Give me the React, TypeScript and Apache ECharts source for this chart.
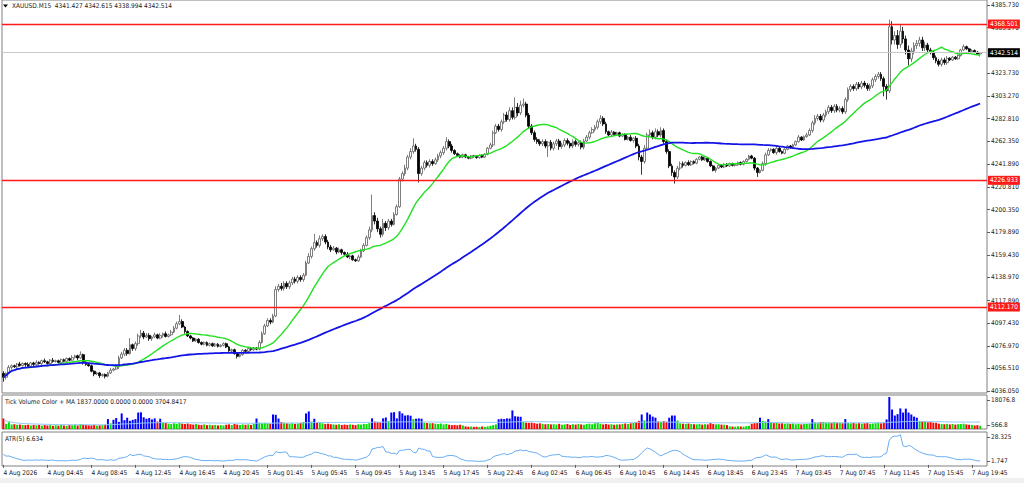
import React, { useEffect, useRef } from "react";
import * as echarts from "echarts";

const symbolName = "XAUUSD.M15";
const timeLabels = [
  "4 Aug 2026", "4 Aug 04:45", "4 Aug 08:45", "4 Aug 12:45", "4 Aug 16:45", "4 Aug 20:45",
  "5 Aug 01:45", "5 Aug 05:45", "5 Aug 09:45", "5 Aug 13:45", "5 Aug 17:45", "5 Aug 22:45",
  "6 Aug 02:45", "6 Aug 06:45", "6 Aug 10:45", "6 Aug 14:45", "6 Aug 18:45", "6 Aug 23:45",
  "7 Aug 03:45", "7 Aug 07:45", "7 Aug 11:45", "7 Aug 15:45", "7 Aug 19:45",
];
const barsPerLabel = 16;
const firstOpen = 4052.0;

const closes = [
  4048.5, 4052.0, 4057.5, 4059.0, 4058.0, 4060.5, 4059.2, 4061.0, 4060.0, 4058.5, 4061.5, 4060.2,
  4062.0, 4061.0, 4063.5, 4062.5, 4061.0, 4064.0, 4062.8, 4063.5, 4062.0, 4064.5, 4063.0, 4065.5,
  4064.0, 4066.5, 4068.0, 4066.0, 4069.0, 4062.0, 4060.0, 4059.0, 4054.0, 4051.5, 4052.5, 4050.0,
  4051.0, 4049.5, 4052.5, 4055.0, 4056.0, 4058.0, 4066.0, 4069.5, 4073.0, 4070.0, 4078.0, 4074.5,
  4079.0, 4086.0, 4088.5, 4085.0, 4086.5, 4083.5, 4085.0, 4087.0, 4084.0, 4086.5, 4088.0, 4085.5,
  4087.0, 4089.5, 4093.0, 4097.0, 4099.0, 4094.0, 4090.0, 4086.0, 4084.0, 4081.5, 4083.0, 4080.0,
  4078.5, 4080.0, 4077.5, 4079.0, 4077.0, 4078.5, 4076.5, 4077.5, 4079.0, 4076.0, 4072.5, 4073.5,
  4070.0, 4067.5, 4069.0, 4073.0, 4072.0, 4074.5, 4073.5, 4075.0, 4074.0, 4080.0, 4088.0, 4095.0,
  4100.0, 4098.5, 4104.0, 4128.0, 4131.0, 4129.0, 4133.5, 4130.5, 4134.0, 4137.5, 4135.5, 4139.0,
  4137.0, 4141.0, 4152.0, 4158.0, 4165.0, 4170.5, 4168.0, 4174.0, 4176.0, 4171.0, 4166.5, 4164.0,
  4165.5, 4162.0, 4164.0, 4161.5, 4160.0, 4157.5, 4158.5, 4155.0, 4154.0, 4157.5, 4163.0, 4168.0,
  4175.0, 4182.0, 4195.0, 4190.0, 4183.0, 4178.0, 4188.0, 4184.0, 4190.0, 4187.0, 4196.0, 4203.0,
  4228.0, 4233.0, 4238.0, 4248.0, 4253.0, 4258.0, 4255.0, 4233.0, 4238.0, 4243.0, 4240.5, 4244.0,
  4242.0, 4245.5, 4249.0, 4252.0, 4256.0, 4262.0, 4258.0, 4254.0, 4251.0, 4249.5, 4248.0, 4250.0,
  4248.0, 4247.0, 4249.0, 4248.5, 4247.5, 4249.5, 4248.0, 4250.5, 4256.0, 4259.0, 4270.0, 4276.0,
  4273.0, 4280.0, 4286.0, 4282.0, 4290.0, 4284.0, 4293.0, 4288.0, 4295.0, 4296.0, 4286.0, 4276.0,
  4270.0, 4264.0, 4262.0, 4260.0, 4262.0, 4258.0, 4261.5, 4256.0, 4260.0, 4262.5, 4257.5, 4259.0,
  4263.0, 4260.5, 4258.0, 4262.0, 4259.5, 4261.0, 4257.0, 4262.5, 4266.0, 4270.0, 4273.0, 4275.0,
  4280.0, 4283.0, 4278.0, 4271.0, 4268.0, 4270.5, 4268.5, 4270.0, 4267.0, 4268.5, 4264.0, 4266.0,
  4263.0, 4265.0, 4258.0, 4248.0, 4244.0, 4256.0, 4268.0, 4270.0, 4266.0, 4271.0, 4268.0, 4272.0,
  4262.0, 4253.0, 4240.0, 4234.0, 4230.0, 4238.0, 4242.0, 4240.5, 4243.0, 4241.0, 4244.0, 4242.5,
  4246.0, 4248.0, 4245.5, 4247.0, 4244.0, 4240.0, 4236.0, 4238.0, 4240.5, 4239.0, 4241.5, 4240.0,
  4242.0, 4240.5, 4241.0, 4243.0, 4241.5, 4244.0, 4246.0, 4249.0, 4247.0, 4238.0, 4234.0, 4236.0,
  4242.0, 4250.0, 4254.0, 4255.0, 4252.0, 4256.0, 4253.0, 4251.5, 4255.0, 4258.0, 4256.5, 4259.0,
  4262.0, 4266.0, 4263.5, 4266.5, 4268.0, 4272.0, 4279.0, 4283.0, 4285.0, 4281.5, 4286.0, 4289.0,
  4293.0, 4290.0, 4294.0, 4290.5, 4292.0, 4289.0, 4300.0, 4309.0, 4312.0, 4310.0, 4314.0, 4311.5,
  4315.0, 4313.0, 4310.0, 4312.5, 4318.0, 4321.0, 4323.0, 4319.0, 4312.0, 4308.0, 4366.0, 4354.0,
  4358.0, 4350.0, 4362.0, 4355.0, 4345.0, 4337.0, 4344.0, 4349.0, 4351.0, 4354.0, 4347.0, 4349.5,
  4345.0, 4343.0, 4338.0, 4335.0, 4332.0, 4336.0, 4333.5, 4337.5, 4336.0, 4338.5, 4337.0, 4340.0,
  4345.0, 4348.0, 4346.0, 4343.5, 4344.5, 4343.0, 4341.427, 4342.514,
];

const upperWicks = [
  2, 1, 2, 1, 1, 1, 2, 1, 1, 2, 1, 1, 2, 1, 1, 2, 1, 1, 2, 1, 1, 1, 1, 1,
  1, 2, 1, 1, 3, 1, 1, 1, 1, 1, 1, 1, 1, 1, 1, 2, 1, 2, 2, 2, 2, 2, 6, 1,
  2, 2, 3, 2, 2, 2, 1, 2, 1, 2, 1, 2, 1, 2, 2, 2, 6, 2, 1, 1, 1, 1, 1, 1,
  1, 1, 1, 1, 1, 1, 1, 1, 1, 1, 1, 1, 1, 1, 1, 1, 1, 1, 1, 1, 1, 2, 2, 2,
  2, 2, 2, 3, 2, 3, 2, 2, 2, 2, 2, 2, 2, 2, 2, 3, 2, 8, 2, 3, 2, 2, 2, 2,
  2, 1, 2, 1, 1, 2, 1, 1, 1, 2, 2, 2, 2, 3, 19, 3, 3, 2, 4, 2, 2, 2, 2, 2,
  2, 2, 3, 2, 3, 7, 2, 2, 2, 2, 2, 2, 2, 2, 2, 2, 2, 4, 2, 2, 1, 1, 1, 1,
  1, 1, 1, 1, 1, 1, 1, 1, 1, 2, 2, 2, 2, 2, 2, 3, 3, 3, 9, 4, 4, 5, 2, 2,
  2, 2, 2, 2, 2, 2, 1, 2, 2, 2, 2, 2, 2, 2, 2, 2, 2, 2, 2, 2, 2, 2, 2, 2,
  2, 3, 2, 2, 1, 2, 1, 1, 1, 1, 1, 1, 2, 1, 2, 2, 2, 3, 2, 3, 2, 3, 2, 3,
  2, 2, 2, 2, 2, 2, 2, 2, 1, 2, 1, 1, 1, 1, 1, 1, 1, 1, 1, 1, 1, 1, 1, 1,
  1, 1, 1, 1, 1, 1, 1, 1, 1, 1, 1, 1, 2, 2, 2, 1, 1, 2, 1, 1, 1, 1, 1, 1,
  1, 2, 1, 1, 2, 2, 2, 3, 2, 2, 2, 2, 2, 2, 2, 2, 2, 2, 2, 2, 2, 2, 2, 2,
  2, 2, 2, 2, 2, 2, 2, 2, 2, 2, 6.5, 5, 4, 5, 6.5, 4, 3, 4, 3, 3, 3, 3, 3, 3,
  2, 2, 2, 2, 2, 2, 2, 2, 1, 1, 1, 1, 1, 2, 1, 1, 1, 1, 1, 0.101,
];

const lowerWicks = [
  4, 2, 1, 2, 1, 2, 1, 1, 2, 1, 1, 2, 1, 1, 2, 1, 1, 1, 1, 1, 1, 1, 1, 1,
  1, 1, 1, 2, 1, 2, 1, 1, 1, 2, 1, 2, 1, 2, 1, 1, 1, 1, 2, 1, 2, 2, 1, 2,
  2, 2, 2, 2, 1, 2, 2, 1, 1, 1, 2, 1, 1, 1, 1, 1, 1, 1, 2, 1, 1, 1, 1, 1,
  1, 1, 1, 1, 1, 1, 1, 1, 1, 1, 1, 1, 1, 2, 1, 1, 1, 1, 1, 1, 1, 1, 1, 1,
  1, 2, 1, 1, 2, 2, 2, 2, 2, 2, 2, 2, 2, 2, 1, 1, 2, 2, 2, 2, 2, 2, 2, 2,
  1, 2, 1, 2, 1, 1, 2, 1, 1, 1, 1, 1, 1, 2, 2, 3, 3, 3, 2, 3, 2, 2, 1, 1,
  1, 2, 2, 2, 2, 2, 2, 8, 2, 2, 2, 2, 2, 1, 2, 2, 2, 2, 2, 2, 1, 1, 1, 1,
  1, 1, 1, 1, 1, 1, 1, 1, 1, 1, 2, 1, 2, 2, 2, 2, 2, 2, 2, 3, 2, 2, 2, 2,
  2, 2, 2, 2, 2, 2, 10, 2, 2, 2, 3, 2, 2, 2, 2, 2, 2, 2, 2, 2, 1, 2, 1, 2,
  2, 2, 2, 2, 1, 1, 1, 1, 1, 1, 1, 1, 1, 2, 2, 3, 12, 2, 2, 2, 2, 2, 2, 2,
  2, 2, 2, 3, 6, 2, 2, 2, 1, 1, 1, 1, 1, 1, 1, 1, 1, 1, 1, 2, 1, 1, 1, 1,
  1, 1, 1, 1, 1, 1, 1, 1, 1, 2, 4, 1, 1, 2, 1, 1, 1, 2, 1, 1, 1, 1, 1, 1,
  1, 1, 1, 1, 1, 1, 2, 2, 2, 2, 2, 2, 2, 2, 2, 2, 2, 2, 2, 2, 2, 2, 2, 2,
  2, 2, 2, 2, 2, 2, 2, 2, 9, 8, 2, 4, 4, 4, 3, 4, 4, 6, 3, 3, 3, 3, 3, 3,
  2, 2, 2, 2, 2, 2, 2, 2, 1, 1, 1, 1, 1, 1, 1, 1, 1, 1, 1, 2.433,
];

const volumes = [
  6000, 2900, 3800, 2600, 2700, 2400, 2500, 2300, 2200, 2400, 2000, 2300,
  2100, 2300, 1900, 2200, 2000, 2200, 1800, 2100, 1900, 2300, 2000, 1800,
  2200, 2100, 2500, 2000, 2800, 2400, 2200, 2100, 2000, 2300, 1900, 2100,
  2200, 2400, 5600, 3200, 5200, 6200, 4000, 8800, 5000, 6400, 4600, 5200,
  5600, 9300, 9400, 6600, 5800, 6200, 5400, 6000, 4200, 5800, 3600, 3400,
  3000, 2800, 3200, 2900, 3400, 3000, 2800, 3100, 2700, 2500, 2800, 2400,
  2300, 2600, 2200, 2400, 2100, 2300, 2000, 2200, 2000, 2400, 2600, 2200,
  2800, 2500, 2300, 2600, 2400, 2600, 2300, 2900, 5900, 3600, 3400, 3500,
  3300, 3000, 8200, 8000, 5900, 3900, 3500, 3200, 3000, 3300, 2900, 3100,
  3400, 4000, 8800, 9900, 4200, 5800, 4000, 3600, 3200, 2800, 3000, 2700,
  2600, 2400, 2700, 2300, 2500, 2300, 2600, 2400, 2200, 2700, 2500, 2900,
  2800, 3300, 6000, 4200, 4000, 3800, 6000, 6500, 4500, 9300, 9500, 6000,
  10000, 8800, 7600, 7800, 7500, 5600, 5800, 6000, 5800, 3600, 3400, 3200,
  3300, 3000, 2800, 3100, 2600, 2900, 2400, 2200, 2300, 2100, 2400, 2000,
  1500, 1300, 1400, 1200, 1300, 1100, 1400, 1200, 1500, 1800, 2200, 2600,
  5500, 5800, 5600, 6000, 5900, 10500, 7200, 7000, 6900, 4000, 3600, 3500,
  3600, 3300, 3000, 3200, 2900, 2700, 2800, 2600, 2700, 2500, 2900, 2400,
  2600, 2800, 2300, 2700, 2500, 2900, 2600, 2400, 2800, 3000, 2700, 3200,
  3400, 3000, 2600, 2800, 2500, 2700, 2400, 2600, 2600, 2900, 3100, 2800,
  3200, 3400, 3800, 4600, 8200, 4800, 9300, 8200, 7000, 6400, 4200, 4000,
  4500, 4100, 6400, 7600, 7600, 4800, 3200, 3000, 2900, 3100, 2800, 2700,
  2600, 2800, 2500, 2700, 2600, 3400, 2800, 2600, 2700, 2500, 2400, 2200,
  1500, 1400, 1300, 1500, 1400, 1300, 1600, 1800, 3000, 3300, 3400, 6400,
  4600, 4200, 5600, 3800, 3300, 3500, 3100, 3200, 3000, 3200, 2900, 3100,
  2700, 2900, 2600, 2800, 2900, 3100, 5600, 3800, 3600, 3900, 4000, 3700,
  3800, 3500, 4000, 3600, 3500, 3300, 5600, 3400, 3200, 3400, 3100, 3300,
  3000, 3200, 3400, 2900, 3100, 3300, 3500, 3200, 3600, 5400, 18076, 11000,
  7600, 8400, 11600, 9300, 11500, 9300, 8200, 7000, 6400, 4600, 4200, 4400,
  3800, 4000, 3600, 3500, 3000, 2800, 2700, 2900, 2600, 2800, 2500, 2700,
  2800, 3000, 2600, 2400, 2300, 2000, 2200, 1837,
];

const priceTicks = [
  4385.73, 4365.27, 4323.73, 4303.27, 4282.81, 4262.35, 4241.89, 4220.81, 4200.35,
  4179.89, 4159.43, 4138.97, 4117.89, 4097.43, 4076.97, 4056.51, 4036.05,
];
const levelLines = [4368.501, 4226.933, 4112.17];
const volumeTicks = [18076.8, 566.8];
const atrTicks = [28.325, 1.747];
const volumeHeaderValues = ["1837.0000", "0.0000", "0.0000", "3704.8417"];
const atrHeaderValue = "6.634";
const fastMaPeriod = 20;
const slowMaPeriod = 100;
const volumeMaPeriod = 100;
const atrPeriod = 5;

const FONT = "'DejaVu Sans Condensed', 'Liberation Sans', sans-serif";

function sma(arr: number[], n: number): number[] {
  return arr.map((_, i) => {
    const s = Math.max(0, i - n + 1);
    let sum = 0;
    for (let k = s; k <= i; k++) sum += arr[k];
    return sum / (i - s + 1);
  });
}

export default function App() {
  const ref = useRef<HTMLDivElement>(null);

  useEffect(() => {
    if (!ref.current) return;
    const chart = echarts.init(ref.current, undefined, { renderer: "svg" });

    const n = closes.length;
    const opens = closes.map((c, i) => (i === 0 ? firstOpen : closes[i - 1]));
    const highs = closes.map((c, i) => Math.max(opens[i], c) + upperWicks[i]);
    const lows = closes.map((c, i) => Math.min(opens[i], c) - lowerWicks[i]);
    const candles = closes.map((c, i) => [opens[i], c, lows[i], highs[i]]);
    const fastMa = sma(closes, fastMaPeriod);
    const slowMa = sma(closes, slowMaPeriod);
    const volMa = sma(volumes, volumeMaPeriod);
    const trueRange = highs.map((h, i) =>
      i === 0 ? h - lows[i] : Math.max(h - lows[i], Math.abs(h - closes[i - 1]), Math.abs(lows[i] - closes[i - 1]))
    );
    const atr = sma(trueRange, atrPeriod);
    const volData = volumes.map((v, i) => ({
      value: v,
      itemStyle: {
        color: v > volMa[i] * 1.4 ? "#0000ff" : closes[i] >= opens[i] ? "#00dd00" : "#ff0000",
      },
    }));

    const categories = [...closes.map((_, i) => String(i)), "pad1", "pad2"];
    const last = n - 1;
    const header = `${symbolName}  ${[opens[last], highs[last], lows[last], closes[last]]
      .map((v) => v.toFixed(3))
      .join(" ")}`;

    const gridBase = { left: 2, right: 37, show: true, backgroundColor: "#ffffff", borderColor: "#808080", borderWidth: 1 };
    const labelStyle = { fontFamily: FONT, fontSize: 6.5, color: "#1a1a1a" };
    const hiddenX = (gi: number) => ({
      type: "category",
      gridIndex: gi,
      data: categories,
      boundaryGap: true,
      show: false,
    });
    const priceLabel = (value: number, bg: string) => ({
      show: true,
      position: "end",
      distance: 1,
      formatter: () => value.toFixed(3),
      backgroundColor: bg,
      color: "#ffffff",
      fontFamily: FONT,
      fontSize: 6.5,
      padding: [1, 2, 1, 2],
    });

    chart.setOption({
      animation: false,
      backgroundColor: "#ffffff",
      textStyle: { fontFamily: FONT },
      grid: [
        { ...gridBase, top: 0, height: 393 },
        { ...gridBase, top: 395, height: 34 },
        { ...gridBase, top: 432, height: 34 },
      ],
      xAxis: [
        hiddenX(0),
        hiddenX(1),
        {
          type: "category",
          gridIndex: 2,
          data: categories,
          boundaryGap: true,
          axisLine: { show: false },
          axisTick: {
            show: true,
            alignWithLabel: true,
            length: 3,
            interval: (idx: number) => idx % barsPerLabel === 0 && idx < n,
            lineStyle: { color: "#606060" },
          },
          axisLabel: {
            ...labelStyle,
            align: "left",
            margin: 3,
            interval: (idx: number) => idx % barsPerLabel === 0 && idx < n,
            formatter: (_v: string, idx: number) => timeLabels[idx / barsPerLabel] ?? "",
          },
        },
      ],
      yAxis: [
        {
          type: "value",
          gridIndex: 0,
          position: "right",
          min: 4034.28,
          max: 4390.26,
          splitLine: { show: false },
          axisLine: { show: false },
          axisTick: { show: true, length: 3, customValues: priceTicks, lineStyle: { color: "#606060" } },
          axisLabel: { ...labelStyle, margin: 4, customValues: priceTicks, formatter: (v: number) => v.toFixed(3) },
        },
        { type: "value", gridIndex: 1, min: 0, max: 19200, show: false },
        {
          type: "value",
          gridIndex: 1,
          position: "right",
          min: -2234.8,
          max: 21578.8,
          splitLine: { show: false },
          axisLine: { show: false },
          axisTick: { show: true, length: 3, customValues: volumeTicks, lineStyle: { color: "#606060" } },
          axisLabel: { ...labelStyle, margin: 4, customValues: volumeTicks, formatter: (v: number) => v.toFixed(1) },
        },
        { type: "value", gridIndex: 2, min: -1, max: 30, show: false },
        {
          type: "value",
          gridIndex: 2,
          position: "right",
          min: -3.79,
          max: 33.86,
          splitLine: { show: false },
          axisLine: { show: false },
          axisTick: { show: true, length: 3, customValues: atrTicks, lineStyle: { color: "#606060" } },
          axisLabel: { ...labelStyle, margin: 4, customValues: atrTicks, formatter: (v: number) => v.toFixed(3) },
        },
      ],
      series: [
        {
          type: "candlestick",
          xAxisIndex: 0,
          yAxisIndex: 0,
          data: candles,
          barWidth: 2.3,
          itemStyle: {
            color: "#ffffff",
            color0: "#000000",
            borderColor: "#5e5e5e",
            borderColor0: "#000000",
            borderWidth: 0.8,
          },
          markLine: {
            silent: true,
            symbol: ["none", "none"],
            animation: false,
            precision: 3,
            data: [
              ...levelLines.map((v) => ({
                yAxis: v,
                lineStyle: { color: "#ff1a1a", width: 1.4, type: "solid" },
                label: priceLabel(v, "#ff1a1a"),
              })),
              {
                yAxis: closes[last],
                lineStyle: { color: "#c8c8c8", width: 1, type: "solid" },
                label: priceLabel(closes[last], "#000000"),
              },
            ],
          },
        },
        {
          type: "line",
          xAxisIndex: 0,
          yAxisIndex: 0,
          data: fastMa,
          showSymbol: false,
          lineStyle: { color: "#22e022", width: 1.4 },
        },
        {
          type: "line",
          xAxisIndex: 0,
          yAxisIndex: 0,
          data: slowMa,
          showSymbol: false,
          lineStyle: { color: "#1414e6", width: 1.8 },
        },
        {
          type: "bar",
          xAxisIndex: 1,
          yAxisIndex: 1,
          data: volData,
          barWidth: 2,
        },
        {
          type: "line",
          xAxisIndex: 1,
          yAxisIndex: 1,
          data: volMa,
          showSymbol: false,
          lineStyle: { color: "#8fc8f5", width: 1 },
        },
        {
          type: "line",
          xAxisIndex: 2,
          yAxisIndex: 3,
          data: atr,
          showSymbol: false,
          lineStyle: { color: "#68acf2", width: 1 },
        },
      ],
      graphic: [
        { type: "rect", shape: { x: 0, y: 478, width: 1024, height: 5 }, style: { fill: "#f0f0f0" }, silent: true },
        { type: "polygon", shape: { points: [[3, 4.5], [8, 4.5], [5.5, 7.5]] }, style: { fill: "#000000" }, silent: true },
        {
          type: "text",
          x: 12,
          y: 2,
          style: { text: header, fontFamily: FONT, fontSize: 6.5, fill: "#1a1a1a" },
          silent: true,
        },
        {
          type: "text",
          x: 5,
          y: 398,
          style: {
            text: `Tick Volume Color + MA ${volumeHeaderValues.join(" ")}`,
            fontFamily: FONT,
            fontSize: 6.5,
            fill: "#1a1a1a",
          },
          silent: true,
        },
        {
          type: "text",
          x: 5,
          y: 435,
          style: { text: `ATR(${atrPeriod}) ${atrHeaderValue}`, fontFamily: FONT, fontSize: 6.5, fill: "#1a1a1a" },
          silent: true,
        },
      ],
    });

    return () => chart.dispose();
  }, []);

  return (
    <div
      ref={ref}
      style={{ position: "absolute", left: 0, top: 0, width: 1024, height: 483, background: "#ffffff" }}
    />
  );
}
